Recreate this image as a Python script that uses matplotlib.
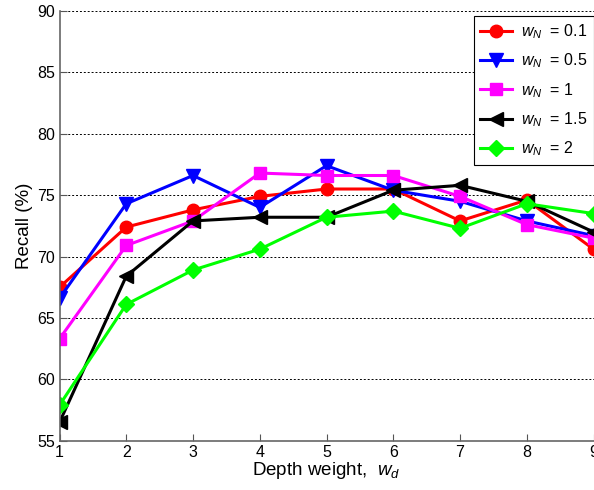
import numpy as np
import matplotlib
matplotlib.use('Agg')
import matplotlib.pyplot as plt

plt.rcParams['font.family'] = ['Liberation Sans', 'DejaVu Sans']
plt.rcParams['mathtext.fontset'] = 'custom'
plt.rcParams['mathtext.it'] = 'Liberation Sans:italic'
plt.rcParams['mathtext.rm'] = 'Liberation Sans'

# depth weight on x
depth_w = [1, 2, 3, 4, 5, 6, 7, 8, 9]

# recall (%) for each w_N
recall_01 = [67.5, 72.4, 73.8, 74.9, 75.5, 75.5, 72.9, 74.6, 70.6]
recall_05 = [66.6, 74.3, 76.6, 74.0, 77.4, 75.4, 74.5, 72.9, 71.7]
recall_1 = [63.3, 70.9, 72.9, 76.8, 76.6, 76.6, 74.9, 72.6, 71.5]
recall_15 = [56.5, 68.4, 72.9, 73.2, 73.2, 75.4, 75.8, 74.5, 72.0]
recall_2 = [57.9, 66.1, 68.9, 70.6, 73.2, 73.7, 72.3, 74.3, 73.5]

labels = [r'$w_N$  = 0.1', r'$w_N$  = 0.5', r'$w_N$  = 1', r'$w_N$  = 1.5', r'$w_N$  = 2']
series = [recall_01, recall_05, recall_1, recall_15, recall_2]
colors = ['#ff0000', '#0000ff', '#ff00ff', '#000000', '#00ff00']
markers = ['o', 'v', 's', '<', 'D']
msizes = [9, 10, 8, 10, 8]

fig = plt.figure(figsize=(5.94, 4.9), dpi=100)
ax = fig.add_axes([0.1002, 0.1006, 0.899, 0.877])

for y, lab, c, m, ms in zip(series, labels, colors, markers, msizes):
    ax.plot(depth_w, y, color=c, marker=m, markersize=ms, linewidth=2.2,
            markerfacecolor=c, markeredgecolor=c, label=lab)

ax.set_xlim(1, 9)
ax.set_ylim(55, 90)
ax.set_xticks(depth_w)
ax.set_yticks(np.arange(55, 91, 5))
ax.yaxis.grid(True, linestyle=(0, (2, 2)), color='black', linewidth=0.7)
ax.set_axisbelow(True)

ax.tick_params(direction='in', length=5, labelsize=11.5, pad=3, colors='#555555', labelcolor='black')
for s in ['top', 'right']:
    ax.spines[s].set_visible(False)
for s in ['left', 'bottom']:
    ax.spines[s].set_color('#666666')
    ax.spines[s].set_linewidth(1.2)

ax.set_xlabel(r'Depth weight,  $w_d$', fontsize=13.5, labelpad=0)
ax.set_ylabel('Recall (%)', fontsize=13.5, labelpad=3)

leg = ax.legend(loc='upper right', bbox_to_anchor=(1.0, 0.988), borderaxespad=0,
                fontsize=11.5, fancybox=False, framealpha=1, edgecolor='black',
                handlelength=2.0, labelspacing=0.66, borderpad=0.4, handletextpad=0.55)
leg.get_frame().set_linewidth(0.8)

plt.savefig('out.png', dpi=100)
